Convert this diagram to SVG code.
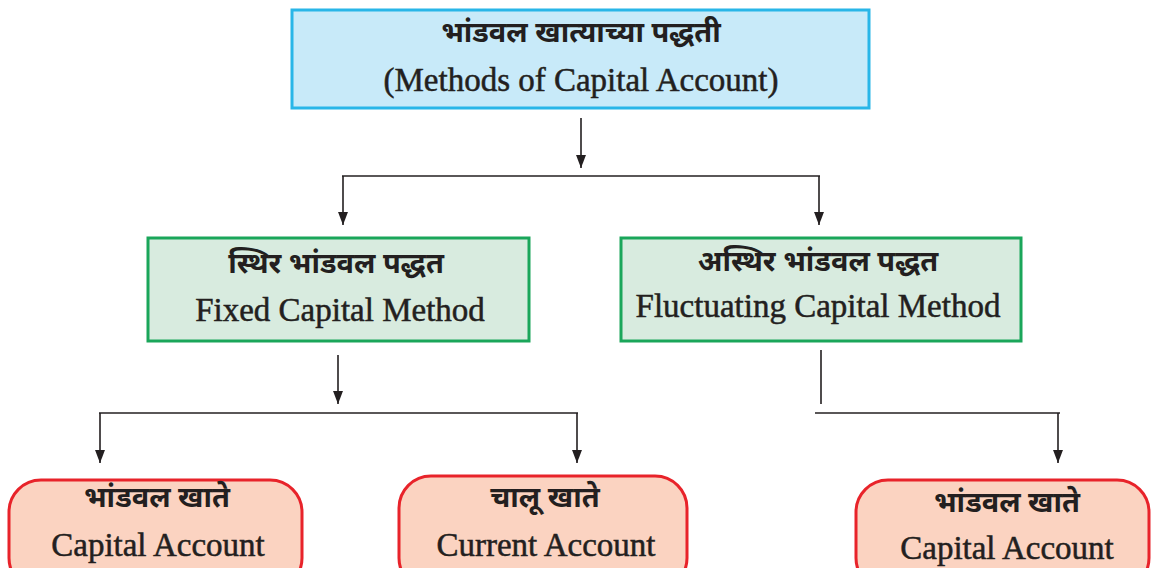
<svg xmlns="http://www.w3.org/2000/svg" width="1153" height="568" viewBox="0 0 1153 568">
<defs>
<marker id="arr" markerWidth="13" markerHeight="17" refX="17" refY="6.5" orient="auto" markerUnits="userSpaceOnUse" viewBox="0 0 17 13">
<path d="M0,0 L17,6.5 L0,13 Z" fill="#231f20"/>
</marker>
</defs>
<style>
.c{stroke:#231f20;stroke-width:1.6;fill:none}
.hi{font-family:"Noto Sans Devanagari","Noto Sans","Noto Serif Devanagari",sans-serif;font-weight:bold;font-size:29px;fill:#231f20;text-anchor:middle}
.en{font-family:"Liberation Serif",serif;font-size:33px;fill:#231f20;stroke:#231f20;stroke-width:0.5;text-anchor:middle}
.blue{fill:#c8eaf9;stroke:#29b6e8;stroke-width:3}
.green{fill:#d8ebdf;stroke:#1aa65a;stroke-width:3}
.red{fill:#fbd3c1;stroke:#e8232a;stroke-width:3}
</style>
<rect width="1153" height="568" fill="#ffffff"/>
<g id="top">
<rect class="blue" x="292" y="10" width="577" height="98"/>
<text class="hi" x="581" y="42">भांडवल खात्याच्या पद्धती</text>
<text class="en" x="581" y="91">(Methods of Capital Account)</text>
</g>
<g id="fixed">
<rect class="green" x="148" y="238" width="381" height="103"/>
<text class="hi" x="336" y="273">स्थिर भांडवल पद्धत</text>
<text class="en" x="340" y="321">Fixed Capital Method</text>
</g>
<g id="fluct">
<rect class="green" x="621" y="238" width="400" height="103"/>
<text class="hi" x="818" y="271">अस्थिर भांडवल पद्धत</text>
<text class="en" x="818" y="317">Fluctuating Capital Method</text>
</g>
<g id="cap1">
<rect class="red" x="9" y="480" width="293" height="110" rx="32"/>
<text class="hi" x="157" y="507">भांडवल खाते</text>
<text class="en" x="158" y="556">Capital Account</text>
</g>
<g id="curr">
<rect class="red" x="399" y="476" width="288" height="114" rx="32"/>
<text class="hi" x="545" y="507">चालू खाते</text>
<text class="en" x="546" y="556">Current Account</text>
</g>
<g id="cap2">
<rect class="red" x="856" y="480" width="293" height="110" rx="32"/>
<text class="hi" x="1007" y="512">भांडवल खाते</text>
<text class="en" x="1007" y="559">Capital Account</text>
</g>
<g id="connectors">
<line class="c" x1="581" y1="118" x2="581" y2="168" marker-end="url(#arr)"/>
<line class="c" x1="342" y1="176" x2="820" y2="176"/>
<line class="c" x1="343" y1="176" x2="343" y2="225" marker-end="url(#arr)"/>
<line class="c" x1="819" y1="176" x2="819" y2="225" marker-end="url(#arr)"/>
<line class="c" x1="338" y1="355" x2="338" y2="404" marker-end="url(#arr)"/>
<line class="c" x1="99" y1="413" x2="578" y2="413"/>
<line class="c" x1="100" y1="413" x2="100" y2="463" marker-end="url(#arr)"/>
<line class="c" x1="577" y1="413" x2="577" y2="463" marker-end="url(#arr)"/>
<line class="c" x1="821" y1="350" x2="821" y2="404"/>
<line class="c" x1="815" y1="413" x2="1060" y2="413"/>
<line class="c" x1="1058" y1="413" x2="1058" y2="463" marker-end="url(#arr)"/>
</g>
</svg>
